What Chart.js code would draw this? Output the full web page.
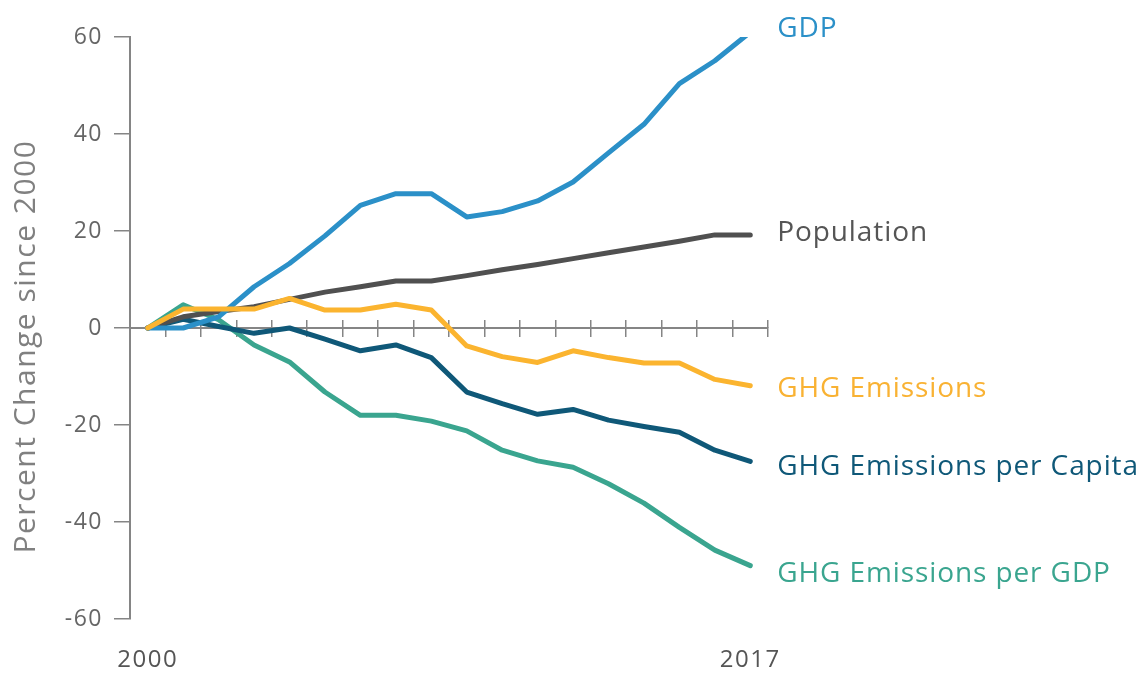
<!DOCTYPE html>
<html>
<head>
<meta charset="utf-8">
<script src="https://cdn.jsdelivr.net/npm/chart.js@4.4.1/dist/chart.umd.min.js"></script>
<style>
html,body{margin:0;padding:0;background:#fff;}
#wrap{width:1145px;height:673px;position:relative;}
</style>
</head>
<body>
<div id="wrap"><canvas id="c" width="1145" height="673"></canvas></div>
<script>
const years = ['2000','2001','2002','2003','2004','2005','2006','2007','2008','2009','2010','2011','2012','2013','2014','2015','2016','2017'];
const yTicks = [-60, -40, -20, 0, 20, 40, 60];
const seriesNames = ['GHG Emissions', 'GDP', 'Population', 'GHG Emissions per Capita', 'GHG Emissions per GDP'];
const ghgEmissions = [0, 3.9, 3.9, 3.9, 6.1, 3.7, 3.7, 4.9, 3.7, -3.7, -5.9, -7.1, -4.7, -6.1, -7.2, -7.2, -10.6, -11.9];
const gdp = [0, 0, 2.3, 8.5, 13.3, 19.0, 25.3, 27.7, 27.7, 22.9, 24.0, 26.2, 30.1, 36.1, 42.0, 50.4, 55.1, 61.0];
const population = [0, 2.3, 3.4, 4.4, 5.9, 7.4, 8.5, 9.7, 9.7, 10.8, 12.0, 13.1, 14.3, 15.5, 16.7, 17.9, 19.2, 19.2];
const perCapita = [0, 1.8, 0.3, -1.1, 0, -2.3, -4.7, -3.5, -6.1, -13.2, -15.6, -17.8, -16.8, -19.0, -20.3, -21.5, -25.2, -27.5];
const perGdp = [0, 4.8, 1.7, -3.5, -7.0, -13.2, -18.0, -18.0, -19.2, -21.2, -25.2, -27.4, -28.7, -32.1, -36.1, -41.1, -45.8, -49.0];

const colors = ['#fbb42f', '#2b90c8', '#505050', '#0f5878', '#3aa58f'];
const labelColors = ['#f9b233', '#2b90c8', '#555555', '#0f5878', '#3aa58f'];
const labelDy = [1, -5.5, -4, 4, 6];

const FONT = '"Open Sans", Lato, sans-serif';
const values = [ghgEmissions, gdp, population, perCapita, perGdp];

const wideText = {
  id: 'wideText',
  beforeDraw(chart) { chart.ctx.letterSpacing = '1.5px'; },
  beforeLayout(chart) { chart.ctx.letterSpacing = '1.5px'; }
};

const endLabels = {
  id: 'endLabels',
  afterDatasetsDraw(chart) {
    const ctx = chart.ctx;
    ctx.save();
    ctx.font = '28px ' + FONT;
    ctx.letterSpacing = '0.9px';
    ctx.textBaseline = 'alphabetic';
    ctx.textAlign = 'left';
    chart.data.datasets.forEach((ds, i) => {
      const meta = chart.getDatasetMeta(i);
      const p = meta.data[meta.data.length - 1];
      ctx.fillStyle = labelColors[i];
      ctx.fillText(ds.label, p.x + 27, p.y + labelDy[i] + 10);
    });
    ctx.restore();
  }
};

new Chart(document.getElementById('c'), {
  type: 'line',
  data: {
    labels: years,
    datasets: values.map((v, i) => ({
      label: seriesNames[i],
      data: v,
      borderColor: colors[i],
      backgroundColor: colors[i],
      borderWidth: 5,
      pointRadius: 0,
      tension: 0,
      borderCapStyle: 'round',
      borderJoinStyle: 'round',
      fill: false
    }))
  },
  options: {
    responsive: false,
    animation: false,
    layout: { padding: { left: 0, right: 377, top: 37, bottom: 0 } },
    plugins: { legend: { display: false }, tooltip: { enabled: false } },
    scales: {
      x: {
        type: 'category',
        labels: years,
        offset: true,
        position: 'bottom',
        afterFit: s => { s.height = 54; },
        grid: { display: false, drawTicks: false },
        border: { display: false },
        ticks: {
          autoSkip: false,
          maxRotation: 0,
          padding: 27,
          color: '#555',
          font: { family: FONT, size: 24 },
          callback: (val, idx) => (idx === 0 || idx === years.length - 1) ? years[idx] : ''
        }
      },
      xZeroDown: {
        type: 'category',
        labels: years,
        offset: true,
        position: { y: 0 },
        grid: { offset: true, drawOnChartArea: false, drawTicks: true, tickLength: 8, color: '#858585', lineWidth: 1.5 },
        border: { display: true, color: '#858585', width: 2 },
        ticks: { display: false }
      },
      xZeroUp: {
        type: 'category',
        labels: years,
        offset: true,
        position: { y: 0 },
        grid: { offset: true, drawOnChartArea: false, drawTicks: true, tickLength: -8, color: '#858585', lineWidth: 1.5 },
        border: { display: false },
        ticks: { display: false }
      },
      y: {
        type: 'linear',
        min: -60,
        max: 60,
        afterFit: s => { s.width = 130; },
        afterBuildTicks: s => { s.ticks = yTicks.map(v => ({ value: v })); },
        grid: { drawOnChartArea: false, drawTicks: true, tickLength: 16, color: '#858585', lineWidth: 1.5 },
        border: { display: true, color: '#858585', width: 2 },
        ticks: { color: '#666', padding: 11, font: { family: FONT, size: 23 } },
        title: { display: true, text: 'Percent Change since 2000    ', color: '#808080', font: { family: FONT, size: 30 }, padding: { top: 8, bottom: 0 } }
      }
    }
  },
  plugins: [wideText, endLabels]
});
</script>
</body>
</html>
